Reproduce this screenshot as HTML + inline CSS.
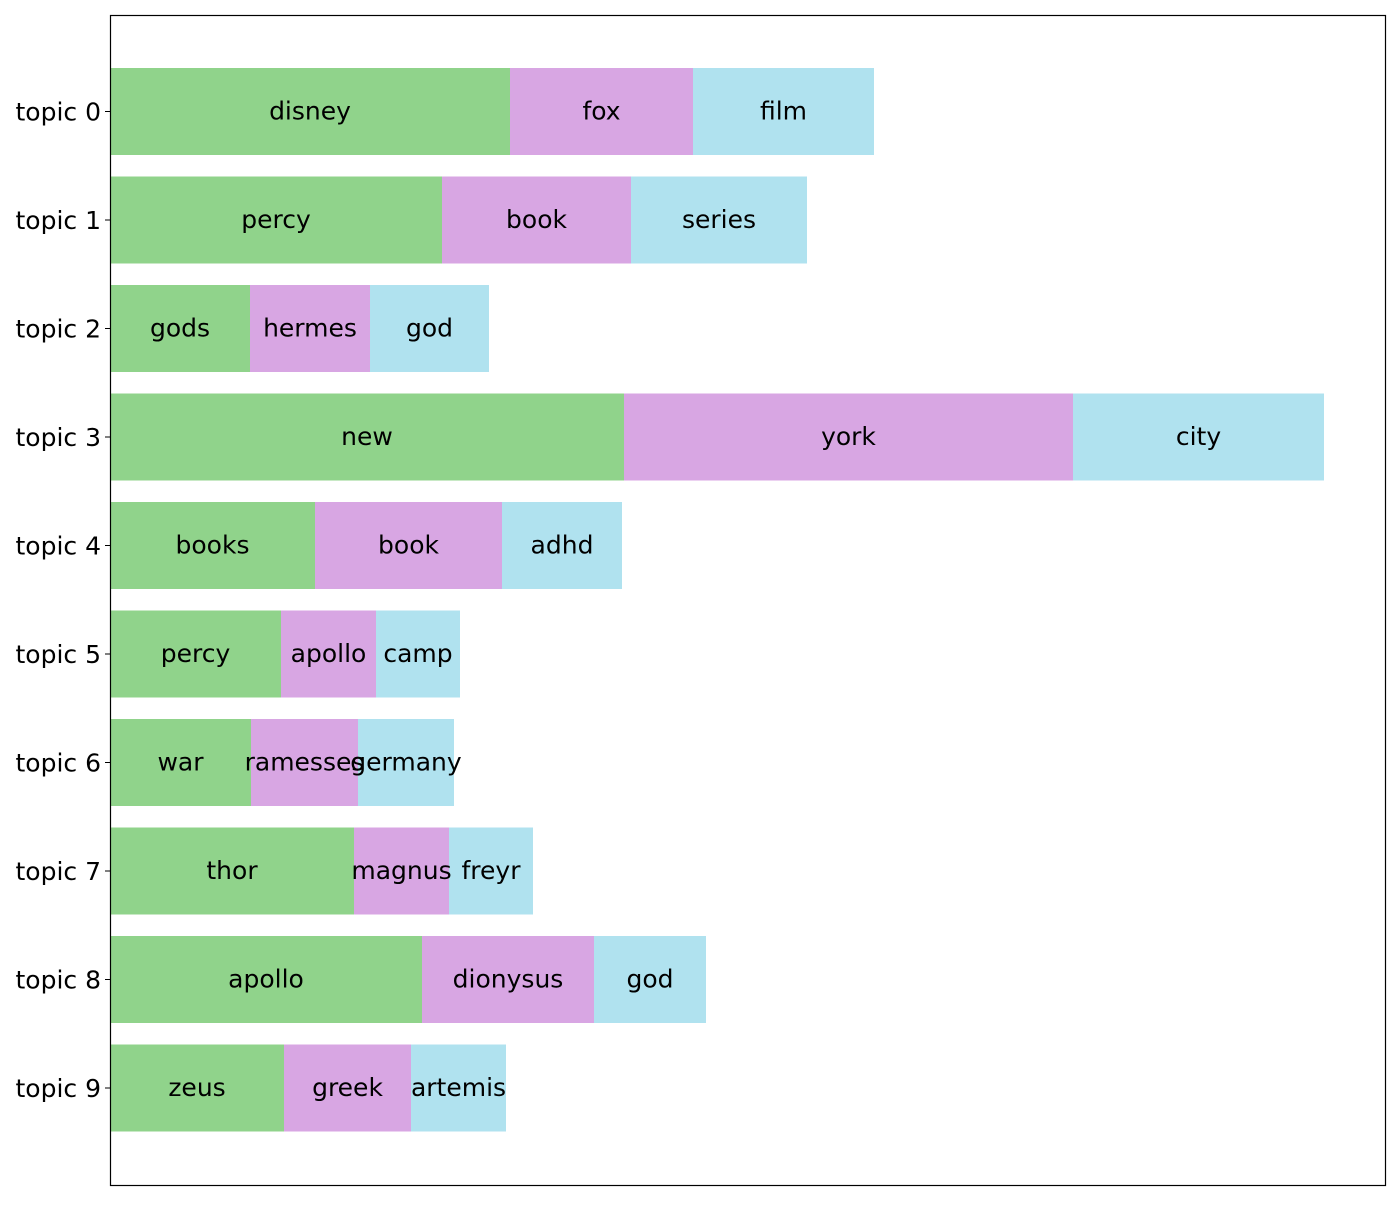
<!DOCTYPE html><html><head><style>body{margin:0;background:#fff}</style></head><body>
<svg width="1400" height="1200" xmlns="http://www.w3.org/2000/svg" font-family="DejaVu Sans, sans-serif" font-size="25">
<g>
<rect x="110" y="68" width="400" height="87" fill="#90d38b"/><rect x="510" y="68" width="183" height="87" fill="#d8a6e3"/><rect x="693" y="68" width="181" height="87" fill="#b0e2ef"/>
<rect x="110" y="176.5" width="332" height="87" fill="#90d38b"/><rect x="442" y="176.5" width="189" height="87" fill="#d8a6e3"/><rect x="631" y="176.5" width="176" height="87" fill="#b0e2ef"/>
<rect x="110" y="285" width="140" height="87" fill="#90d38b"/><rect x="250" y="285" width="120" height="87" fill="#d8a6e3"/><rect x="370" y="285" width="119" height="87" fill="#b0e2ef"/>
<rect x="110" y="393.5" width="514" height="87" fill="#90d38b"/><rect x="624" y="393.5" width="449" height="87" fill="#d8a6e3"/><rect x="1073" y="393.5" width="251" height="87" fill="#b0e2ef"/>
<rect x="110" y="502" width="205" height="87" fill="#90d38b"/><rect x="315" y="502" width="187" height="87" fill="#d8a6e3"/><rect x="502" y="502" width="120" height="87" fill="#b0e2ef"/>
<rect x="110" y="610.5" width="171" height="87" fill="#90d38b"/><rect x="281" y="610.5" width="95" height="87" fill="#d8a6e3"/><rect x="376" y="610.5" width="84" height="87" fill="#b0e2ef"/>
<rect x="110" y="719" width="141" height="87" fill="#90d38b"/><rect x="251" y="719" width="107" height="87" fill="#d8a6e3"/><rect x="358" y="719" width="96" height="87" fill="#b0e2ef"/>
<rect x="110" y="827.5" width="244" height="87" fill="#90d38b"/><rect x="354" y="827.5" width="95" height="87" fill="#d8a6e3"/><rect x="449" y="827.5" width="84" height="87" fill="#b0e2ef"/>
<rect x="110" y="936" width="312" height="87" fill="#90d38b"/><rect x="422" y="936" width="172" height="87" fill="#d8a6e3"/><rect x="594" y="936" width="112" height="87" fill="#b0e2ef"/>
<rect x="110" y="1044.5" width="174" height="87" fill="#90d38b"/><rect x="284" y="1044.5" width="127" height="87" fill="#d8a6e3"/><rect x="411" y="1044.5" width="95" height="87" fill="#b0e2ef"/>
</g>
<g text-anchor="middle">
<text x="310" y="119.5">disney</text><text x="601.5" y="119.5">fox</text><text x="783.5" y="119.5">film</text>
<text x="276" y="228">percy</text><text x="536.5" y="228">book</text><text x="719" y="228">series</text>
<text x="180" y="336.5">gods</text><text x="310" y="336.5">hermes</text><text x="429.5" y="336.5">god</text>
<text x="367" y="445">new</text><text x="848.5" y="445">york</text><text x="1198.5" y="445">city</text>
<text x="212.5" y="553.5">books</text><text x="408.5" y="553.5">book</text><text x="562" y="553.5">adhd</text>
<text x="195.5" y="662">percy</text><text x="328.5" y="662">apollo</text><text x="418" y="662">camp</text>
<text x="180.5" y="770.5">war</text><text x="304.5" y="770.5">ramesses</text><text x="406" y="770.5">germany</text>
<text x="232" y="879">thor</text><text x="401.5" y="879">magnus</text><text x="491" y="879">freyr</text>
<text x="266" y="987.5">apollo</text><text x="508" y="987.5">dionysus</text><text x="650" y="987.5">god</text>
<text x="197" y="1096">zeus</text><text x="347.5" y="1096">greek</text><text x="458.5" y="1096">artemis</text>
</g>
<g text-anchor="end">
<text x="101" y="120.5">topic 0</text><text x="101" y="229">topic 1</text><text x="101" y="337.5">topic 2</text><text x="101" y="446">topic 3</text><text x="101" y="554.5">topic 4</text><text x="101" y="663">topic 5</text><text x="101" y="771.5">topic 6</text><text x="101" y="880">topic 7</text><text x="101" y="988.5">topic 8</text><text x="101" y="1097">topic 9</text>
</g>
<g stroke="#000">
<line x1="105" x2="110" y1="111.5" y2="111.5"/><line x1="105" x2="110" y1="220" y2="220"/><line x1="105" x2="110" y1="328.5" y2="328.5"/><line x1="105" x2="110" y1="437" y2="437"/><line x1="105" x2="110" y1="545.5" y2="545.5"/><line x1="105" x2="110" y1="654" y2="654"/><line x1="105" x2="110" y1="762.5" y2="762.5"/><line x1="105" x2="110" y1="871" y2="871"/><line x1="105" x2="110" y1="979.5" y2="979.5"/><line x1="105" x2="110" y1="1088" y2="1088"/>
</g>
<rect x="110.5" y="15.5" width="1275" height="1170" fill="none" stroke="#000" stroke-width="1.2"/>
</svg></body></html>
